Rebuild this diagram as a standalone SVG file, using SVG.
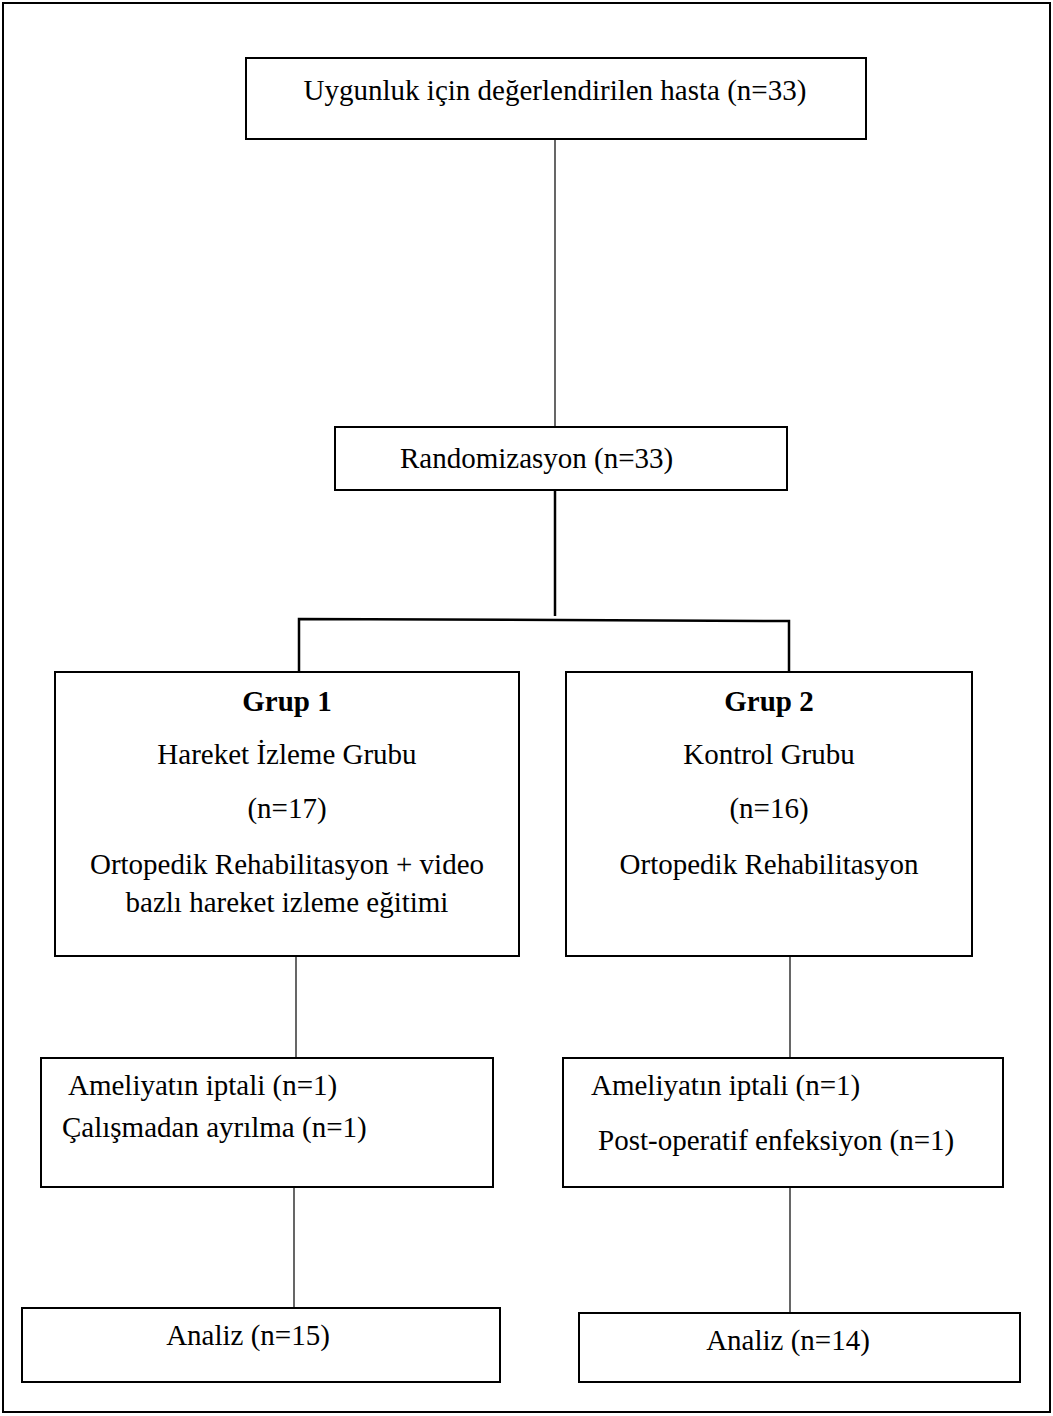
<svg xmlns="http://www.w3.org/2000/svg" width="1053" height="1416" viewBox="0 0 1053 1416">
<style>
.box{fill:#fff;stroke:#000;stroke-width:2}
.t{font-family:"Liberation Serif","Times New Roman",serif;font-size:29px;fill:#000}
.c{text-anchor:middle}
.b{font-weight:bold}
.thin{stroke:#000;stroke-width:1.2;fill:none}
.thick{stroke:#000;stroke-width:2.5;fill:none}
</style>
<rect x="0" y="0" width="1053" height="1416" fill="#fff"/>
<rect x="3" y="3" width="1047" height="1409" fill="none" stroke="#000" stroke-width="2"/>
<g id="connectors">
<line class="thin" x1="555" y1="139" x2="555" y2="428"/>
<line class="thick" x1="555" y1="490" x2="555" y2="616"/>
<polyline class="thick" points="299,672 299,619 789,621 789,672"/>
<line class="thin" x1="296" y1="956" x2="296" y2="1058"/>
<line class="thin" x1="790" y1="956" x2="790" y2="1058"/>
<line class="thin" x1="294" y1="1187" x2="294" y2="1308"/>
<line class="thin" x1="790" y1="1187" x2="790" y2="1313"/>
</g>
<g id="n1">
<rect class="box" x="246" y="58" width="620" height="81"/>
<text class="t c" x="555" y="100">Uygunluk için değerlendirilen hasta (n=33)</text>
</g>
<g id="n2">
<rect class="box" x="335" y="427" width="452" height="63"/>
<text class="t" x="400" y="468">Randomizasyon (n=33)</text>
</g>
<g id="n3">
<rect class="box" x="55" y="672" width="464" height="284"/>
<text class="t c b" x="287" y="711">Grup 1</text>
<text class="t c" x="287" y="764">Hareket İzleme Grubu</text>
<text class="t c" x="287" y="818">(n=17)</text>
<text class="t c" x="287" y="874">Ortopedik Rehabilitasyon + video</text>
<text class="t c" x="287" y="912">bazlı hareket izleme eğitimi</text>
</g>
<g id="n4">
<rect class="box" x="566" y="672" width="406" height="284"/>
<text class="t c b" x="769" y="711">Grup 2</text>
<text class="t c" x="769" y="764">Kontrol Grubu</text>
<text class="t c" x="769" y="818">(n=16)</text>
<text class="t c" x="769" y="874">Ortopedik Rehabilitasyon</text>
</g>
<g id="n5">
<rect class="box" x="41" y="1058" width="452" height="129"/>
<text class="t" x="68" y="1095">Ameliyatın iptali (n=1)</text>
<text class="t" x="62" y="1137">Çalışmadan ayrılma (n=1)</text>
</g>
<g id="n6">
<rect class="box" x="563" y="1058" width="440" height="129"/>
<text class="t" x="591" y="1095">Ameliyatın iptali (n=1)</text>
<text class="t" x="598" y="1150">Post-operatif enfeksiyon (n=1)</text>
</g>
<g id="n7">
<rect class="box" x="22" y="1308" width="478" height="74"/>
<text class="t c" x="248" y="1345">Analiz (n=15)</text>
</g>
<g id="n8">
<rect class="box" x="579" y="1313" width="441" height="69"/>
<text class="t c" x="788" y="1350">Analiz (n=14)</text>
</g>
</svg>
